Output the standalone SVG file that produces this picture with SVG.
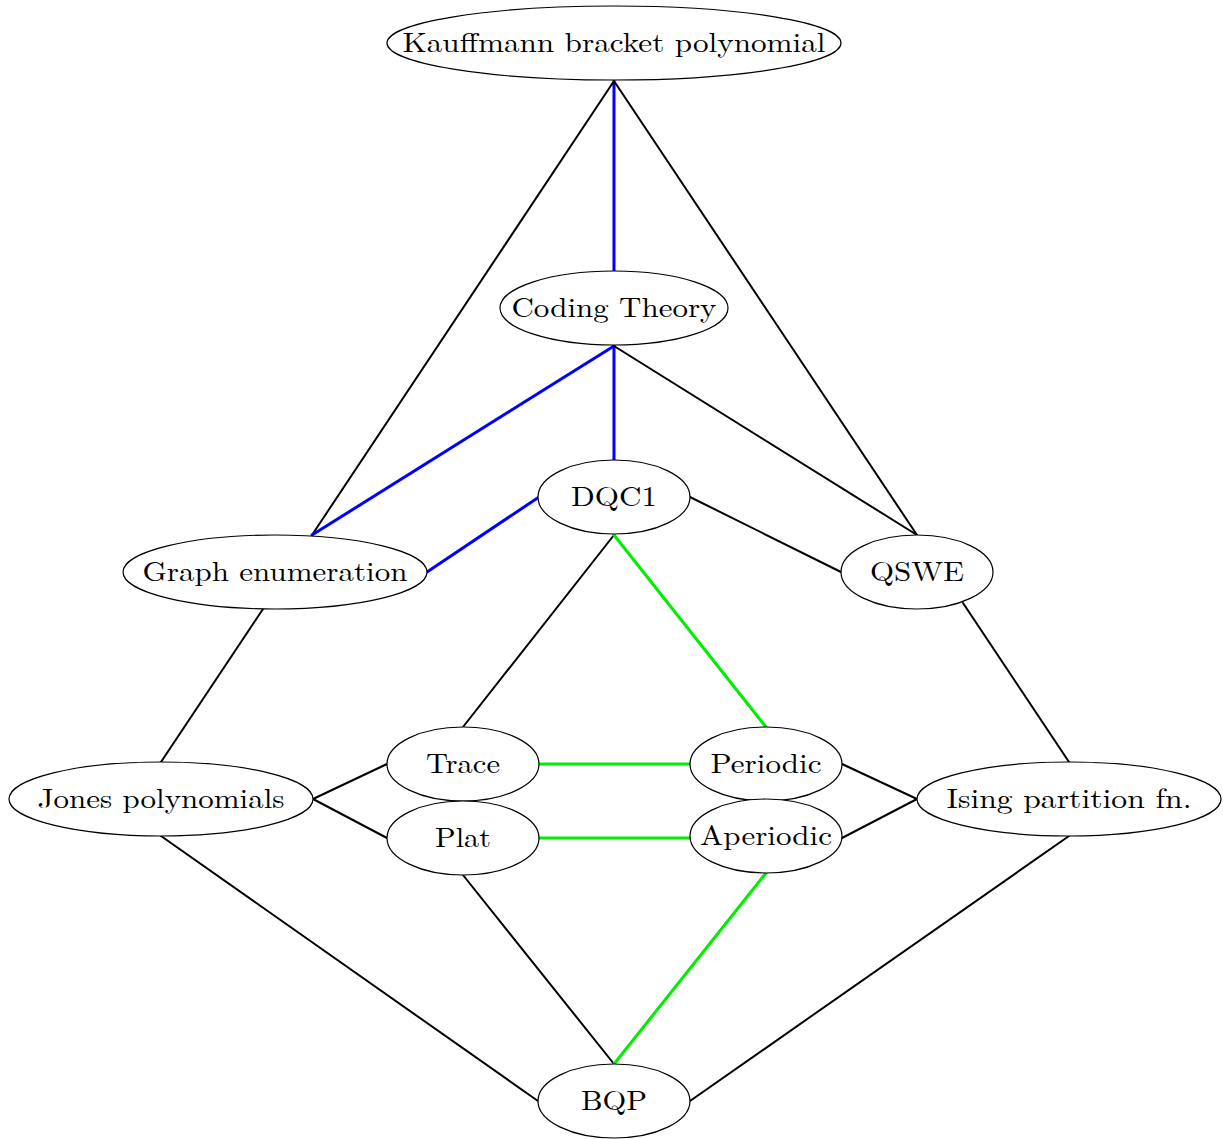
<svg xmlns="http://www.w3.org/2000/svg" width="1223" height="1139" viewBox="0 0 1223 1139">
<style>
.n ellipse{fill:#fff;stroke:#000;stroke-width:1.2}
.n text{font-family:"Latin Modern Roman","Liberation Serif",serif;font-size:28px;fill:#000;text-anchor:middle}
.e line{stroke:#000;stroke-width:2;stroke-linecap:round}
.e line.b{stroke:#0000ff;stroke-width:3}
.e line.g{stroke:#00ee00;stroke-width:3}
</style>
<rect width="1223" height="1139" fill="#fff"/>
<g id="edges" class="e">
<line class="b" x1="614" y1="81" x2="614" y2="271"/>
<line x1="614" y1="81" x2="312" y2="535"/>
<line x1="614" y1="81" x2="917" y2="535"/>
<line class="b" x1="614" y1="346" x2="312" y2="535"/>
<line class="b" x1="614" y1="346" x2="614" y2="460"/>
<line x1="614" y1="346" x2="917" y2="535"/>
<line class="b" x1="539" y1="497" x2="427" y2="572"/>
<line x1="690" y1="497" x2="841" y2="572"/>
<line x1="614" y1="535" x2="463" y2="727"/>
<line class="g" x1="614" y1="535" x2="766" y2="727"/>
<line x1="263" y1="609" x2="161" y2="762"/>
<line x1="963" y1="603" x2="1069" y2="762"/>
<line x1="313" y1="799" x2="387" y2="764"/>
<line x1="313" y1="799" x2="387" y2="838"/>
<line class="g" x1="539" y1="764" x2="690" y2="764"/>
<line class="g" x1="539" y1="838" x2="690" y2="838"/>
<line x1="842" y1="764" x2="917" y2="799"/>
<line x1="842" y1="838" x2="917" y2="799"/>
<line x1="161" y1="836" x2="538" y2="1101"/>
<line x1="463" y1="875" x2="614" y2="1064"/>
<line class="g" x1="766" y1="873" x2="614" y2="1064"/>
<line x1="1069" y1="836" x2="690" y2="1101"/>
</g>
<g id="kauffmann" class="n"><ellipse cx="614" cy="43" rx="227" ry="37"/><text x="614" y="51.5" textLength="423" lengthAdjust="spacingAndGlyphs">Kauffmann bracket polynomial</text></g>
<g id="coding" class="n"><ellipse cx="614" cy="308" rx="114" ry="37"/><text x="614" y="316.5" textLength="205" lengthAdjust="spacingAndGlyphs">Coding Theory</text></g>
<g id="dqc1" class="n"><ellipse cx="614" cy="497" rx="76" ry="37"/><text x="614" y="505.5" textLength="86" lengthAdjust="spacingAndGlyphs">DQC1</text></g>
<g id="graph" class="n"><ellipse cx="275" cy="572" rx="152" ry="37"/><text x="275" y="580.5" textLength="265" lengthAdjust="spacingAndGlyphs">Graph enumeration</text></g>
<g id="qswe" class="n"><ellipse cx="917" cy="572" rx="76" ry="37"/><text x="917" y="580.5" textLength="94" lengthAdjust="spacingAndGlyphs">QSWE</text></g>
<g id="jones" class="n"><ellipse cx="161" cy="799" rx="152" ry="37"/><text x="161" y="807.5" textLength="247" lengthAdjust="spacingAndGlyphs">Jones polynomials</text></g>
<g id="trace" class="n"><ellipse cx="463" cy="764" rx="76" ry="37"/><text x="463" y="772.5" textLength="74" lengthAdjust="spacingAndGlyphs">Trace</text></g>
<g id="plat" class="n"><ellipse cx="463" cy="838" rx="76" ry="37"/><text x="463" y="846.5" textLength="56" lengthAdjust="spacingAndGlyphs">Plat</text></g>
<g id="periodic" class="n"><ellipse cx="766" cy="764" rx="76" ry="37"/><text x="766" y="772.5" textLength="111" lengthAdjust="spacingAndGlyphs">Periodic</text></g>
<g id="aperiodic" class="n"><ellipse cx="766" cy="836" rx="76" ry="37"/><text x="766" y="844.5" textLength="132" lengthAdjust="spacingAndGlyphs">Aperiodic</text></g>
<g id="ising" class="n"><ellipse cx="1069" cy="799" rx="152" ry="37"/><text x="1069" y="807.5" textLength="245" lengthAdjust="spacingAndGlyphs">Ising partition fn.</text></g>
<g id="bqp" class="n"><ellipse cx="614" cy="1101" rx="76" ry="37"/><text x="614" y="1109.5" textLength="66" lengthAdjust="spacingAndGlyphs">BQP</text></g>
</svg>
